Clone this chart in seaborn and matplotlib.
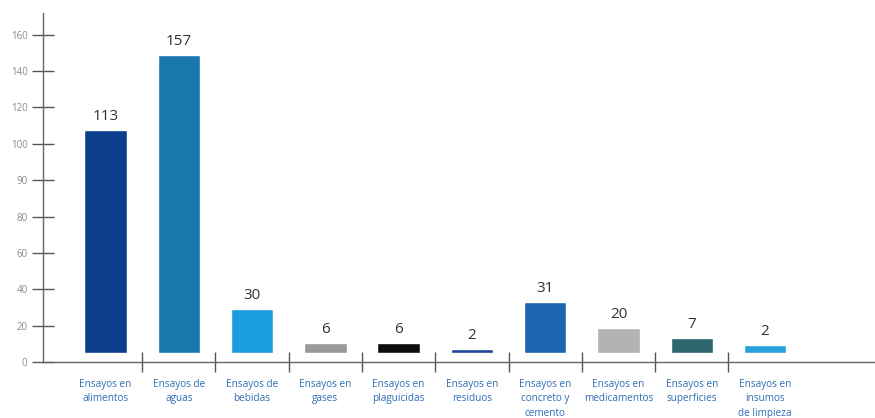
import matplotlib
matplotlib.use("Agg")
import matplotlib.pyplot as plt
import seaborn as sns
import pandas as pd
from matplotlib.ticker import FixedLocator

# ---- data ----
categorias = [
    "Ensayos en\nalimentos", "Ensayos de\naguas", "Ensayos de\nbebidas",
    "Ensayos en\ngases", "Ensayos en\nplaguicidas", "Ensayos en\nresiduos",
    "Ensayos en\nconcreto y\ncemento", "Ensayos en\nmedicamentos",
    "Ensayos en\nsuperficies", "Ensayos en\ninsumos\nde limpieza",
]
valores = [113, 157, 30, 6, 6, 2, 31, 20, 7, 2]              # printed labels
alturas = [122.8, 164, 24.2, 5.5, 5.5, 2.2, 28, 13.7, 8.2, 4.4]  # bar heights as drawn
colores = ["#0b3f8e", "#1877ad", "#1b9ee0", "#9a9a9a", "#0d0d0d",
           "#1c4595", "#1f63b3", "#b3b3b3", "#2e6670", "#27a0dc"]
ytick_vals = [0, 20, 40, 60, 80, 100, 120, 140, 160, 180]
ytick_labels = ["0", "20", "40", "60", "80", "90", "100", "120", "140", "160"]

df = pd.DataFrame({"cat": categorias, "altura": alturas})

sns.set_theme(style="white")
plt.rcParams["font.family"] = ["Open Sans", "DejaVu Sans"]

fig = plt.figure(figsize=(8.75, 4.18), dpi=100)
ax = fig.add_axes([0.049, 0.134, 0.951, 0.835])

sns.barplot(data=df, x="cat", y="altura", hue="cat", palette=colores,
            legend=False, width=0.58, bottom=5, ax=ax, saturation=1)

bars = sorted([p for p in ax.patches], key=lambda p: p.get_x())
for p, v in zip(bars, valores):
    ax.annotate(str(v), (p.get_x() + p.get_width() / 2, p.get_y() + p.get_height()),
                xytext=(0, 4), textcoords="offset points", ha="center", va="bottom",
                fontsize=11, color="#333333")

ax.set_ylim(0, 192)
ax.set_xlim(-0.855, 10.5)
ax.set_yticks(ytick_vals)
ax.set_yticklabels(ytick_labels)
ax.tick_params(axis="y", direction="inout", length=16, width=1, color="#555555",
               labelsize=7, labelcolor="#8a8a8a", pad=3, left=True)
ax.tick_params(axis="x", which="major", length=0, labelsize=7.2,
               labelcolor="#2f6db5", pad=12)
ax.xaxis.set_minor_locator(FixedLocator([i + 0.5 for i in range(len(categorias) - 1)]))
ax.tick_params(axis="x", which="minor", direction="inout", length=14, width=1,
               color="#555555", bottom=True)
for lbl in ax.get_xticklabels():
    lbl.set_linespacing(1.45)

ax.set_xlabel("")
ax.set_ylabel("")
for s in ["top", "right"]:
    ax.spines[s].set_visible(False)
for s in ["left", "bottom"]:
    ax.spines[s].set_color("#666666")
    ax.spines[s].set_linewidth(1)

fig.savefig("out.png", dpi=100)
